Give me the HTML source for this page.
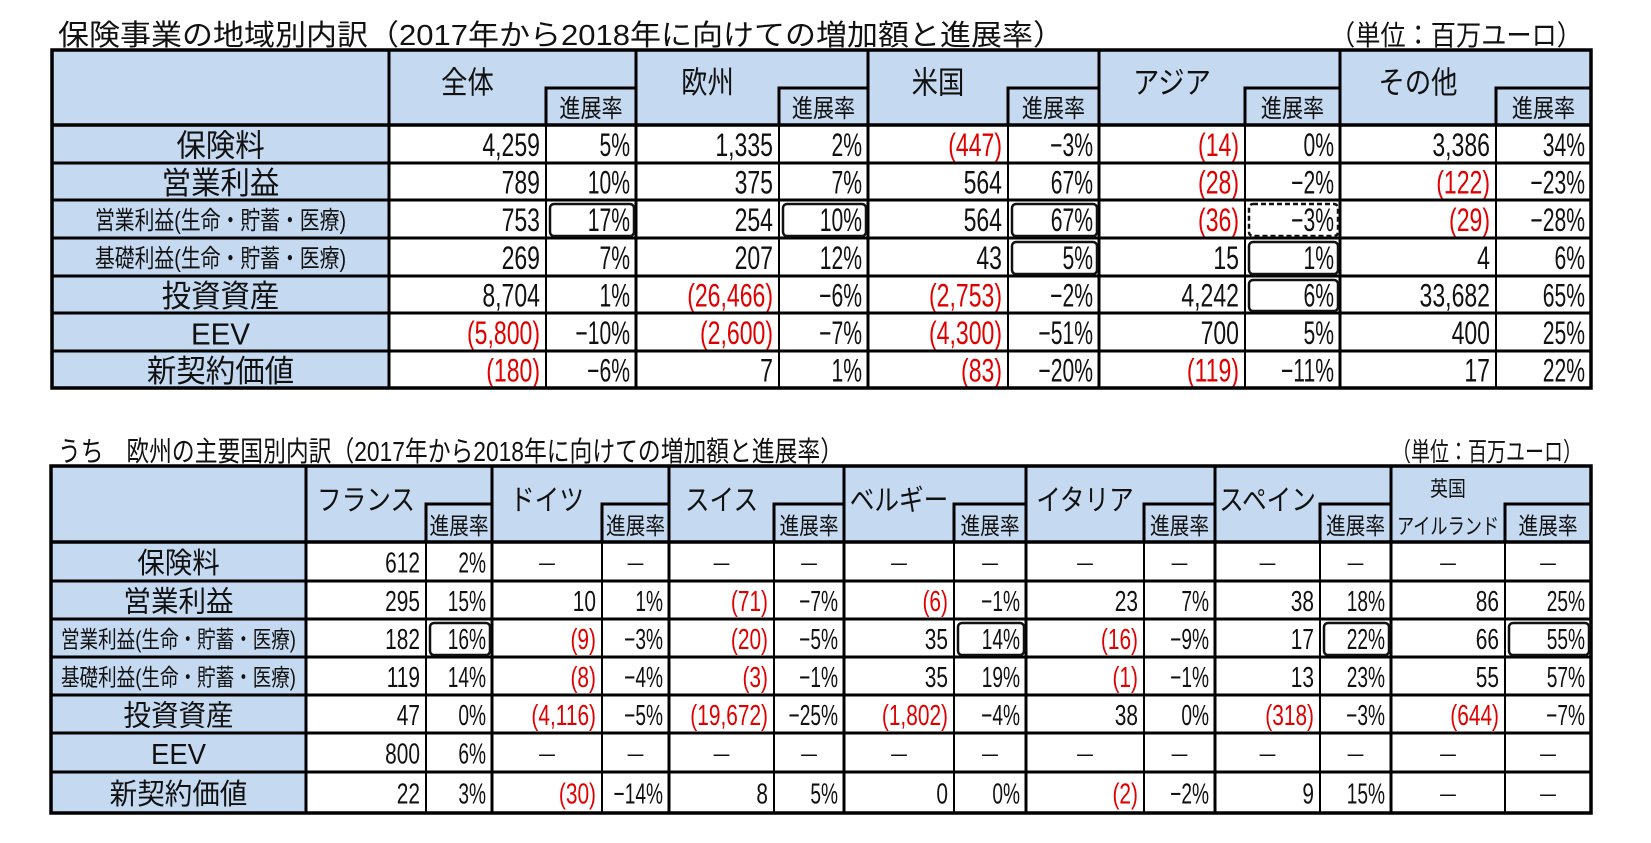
<!DOCTYPE html>
<html><head><meta charset="utf-8"><style>
html,body{margin:0;padding:0;background:#fff;}
svg{display:block;font-family:"Liberation Sans","Noto Sans CJK JP",sans-serif;}
</style></head><body>
<svg id="s" width="1651" height="843" viewBox="0 0 1651 843" xmlns="http://www.w3.org/2000/svg"></svg>
<script>
const rowLabels=["保険料","営業利益","営業利益(生命・貯蓄・医療)","基礎利益(生命・貯蓄・医療)","投資資産","EEV","新契約価値"];
const t1Groups=["全体","欧州","米国","アジア","その他"];
const t1Amounts=[[4259,1335,-447,-14,3386],[789,375,564,-28,-122],[753,254,564,-36,-29],[269,207,43,15,4],[8704,-26466,-2753,4242,33682],[-5800,-2600,-4300,700,400],[-180,7,-83,-119,17]];
const t1Rates=[[5,2,-3,0,34],[10,7,67,-2,-23],[17,10,67,-3,-28],[7,12,5,1,6],[1,-6,-2,6,65],[-10,-7,-51,5,25],[-6,1,-20,-11,22]];
const t2Groups=["フランス","ドイツ","スイス","ベルギー","イタリア","スペイン","英国|アイルランド"];
const t2Amounts=[[612,null,null,null,null,null,null],[295,10,-71,-6,23,38,86],[182,-9,-20,35,-16,17,66],[119,-8,-3,35,-1,13,55],[47,-4116,-19672,-1802,38,-318,-644],[800,null,null,null,null,null,null],[22,-30,8,0,-2,9,null]];
const t2Rates=[[2,null,null,null,null,null,null],[15,1,-7,-1,7,18,25],[16,-3,-5,14,-9,22,55],[14,-4,-1,19,-1,23,57],[0,-5,-25,-4,0,-3,-7],[6,null,null,null,null,null,null],[3,-14,5,0,-2,15,null]];
const t1Boxes=[[2,0,0],[2,1,0],[2,2,0],[3,2,0],[2,3,1],[3,3,0],[4,3,0]];
const t2Boxes=[[2,0,0],[2,3,0],[2,5,0],[2,6,0]];

const S=document.getElementById('s');const NS="http://www.w3.org/2000/svg";
function el(tag,a,name){const e=document.createElementNS(NS,tag);for(const k in a)e.setAttribute(k,a[k]);


S.appendChild(e);return e;}
function txt(x,y,s,size,anchor,color,sx,name){const e=el('text',{transform:`translate(${x},${y}) scale(${sx},1)`,'font-size':size,'text-anchor':anchor,fill:color||'#111'},name);e.textContent=s;return e;}
function fitTxt(x,y,s,size,len,name){const e=el('text',{x:x,y:y,'font-size':size,textLength:len,lengthAdjust:'spacingAndGlyphs',fill:'#111'},name);e.textContent=s;return e;}
function fmtA(v){if(v===null)return["－","#111"];const s=Math.abs(v).toLocaleString('en-US');return v<0?["("+s+")","#e00000"]:[s,"#111"];}
function fmtR(v){if(v===null)return "－";return (v<0?"−":"")+Math.abs(v)+"%";}

function table(cfg){
 const {L,R,top,hb,sub,rows,label,cols,groups,amts,rates,boxes,nsz,hsz,lsz,pre}=cfg;
 const bot=rows[rows.length-1];
 el('rect',{x:L,y:top,width:R-L,height:hb-top,fill:'#c5d9f1'},pre+'-header-bg');
 el('rect',{x:L,y:hb,width:label-L,height:bot-hb,fill:'#c5d9f1'},pre+'-label-col-bg');
 for(let i=0;i<rowLabels.length;i++){const y0=i?rows[i-1]:hb,y1=rows[i];const long=rowLabels[i].length>6;
  txt((L+label)/2,(y0+y1)/2+(long?lsz*0.32:lsz*0.4),rowLabels[i],long?lsz*0.8:lsz,'middle','#111',long?0.8:0.95,'row-label-'+i);}
 for(let g=0;g<groups.length;g++){const a=cols[g][0],r=cols[g][1],b=cols[g][2];
  const gn=groups[g];
  if(gn.includes('|')){const p=gn.split('|');txt((a+r)/2,top+30,p[0],21,'middle','#111',0.85,'group-header-'+g);txt((a+r)/2,sub+30,p[1],22,'middle','#111',0.78,'group-header-'+g+'-b');}
  else txt((a+r)/2,(top+hb)/2+hsz*0.2,gn,hsz,'middle','#111',0.85,'group-header-'+g);
  txt((r+b)/2,hb-8,"進展率",hsz*0.8,'middle','#111',0.85,'rate-header-'+g);
  el('path',{d:`M${r},${hb} V${sub} H${b}`,stroke:'#000','stroke-width':3,fill:'none'},'rate-header-border-'+g);
  for(let i=0;i<rowLabels.length;i++){const y0=i?rows[i-1]:hb,y1=rows[i];const cy=(y0+y1)/2+nsz*0.38;
   const [s,c]=fmtA(amts[i][g]);const rs=fmtR(rates[i][g]);
   if(amts[i][g]===null)txt((a+r)/2,cy,s,nsz*0.75,'middle','#111',1,'amount-'+i+'-'+g);
   else txt(r-6,cy,s,nsz,'end',c,0.72,'amount-'+i+'-'+g);
   if(rates[i][g]===null)txt((r+b)/2,cy,rs,nsz*0.75,'middle','#111',1,'rate-'+i+'-'+g);
   else txt(b-6,cy,rs,nsz,'end','#111',0.66,'rate-'+i+'-'+g);}
  el('line',{x1:r,y1:hb,x2:r,y2:bot,stroke:'#000','stroke-width':2},'rate-col-line-'+g);
  el('line',{x1:b,y1:top,x2:b,y2:bot,stroke:'#000','stroke-width':3},'group-col-line-'+g);
 }
 el('line',{x1:label,y1:top,x2:label,y2:bot,stroke:'#000','stroke-width':3},pre+'-label-col-line');
 el('line',{x1:L,y1:hb,x2:R,y2:hb,stroke:'#000','stroke-width':3.5},pre+'-header-line');
 for(let i=0;i<rows.length-1;i++)el('line',{x1:L,y1:rows[i],x2:R,y2:rows[i],stroke:'#000','stroke-width':3},pre+'-row-line-'+i);
 el('rect',{x:L,y:top,width:R-L,height:bot-top,fill:'none',stroke:'#000','stroke-width':3.5},pre+'-outer-border');
 for(const [ri,g,d] of boxes){const y0=ri?rows[ri-1]:hb,y1=rows[ri];const r=cols[g][1],b=cols[g][2];
  const a={x:r+4,y:y0+4,width:b-r-6,height:y1-y0-6,rx:4,fill:'none',stroke:'#111','stroke-width':2.5};if(d)a['stroke-dasharray']='5,3';
  el('rect',a,pre+'-highlight-box-'+ri+'-'+g);}
}
fitTxt(58,45,"保険事業の地域別内訳（2017年から2018年に向けての増加額と進展率）",29,1006,'table1-title');
fitTxt(1330,45,"（単位：百万ユーロ）",28,252,'table1-unit');
table({pre:'table1',L:52,R:1591,top:50,hb:125,sub:88,rows:[163,200,238,276,313,351,388],label:389,nsz:32,hsz:31,lsz:31,
 cols:[[389,546,636],[636,779,868],[868,1008,1099],[1099,1245,1340],[1340,1496,1591]],groups:t1Groups,amts:t1Amounts,rates:t1Rates,boxes:t1Boxes});
fitTxt(58,461,"うち　欧州の主要国別内訳（2017年から2018年に向けての増加額と進展率）",28,785,'table2-title');
fitTxt(1392,461,"（単位：百万ユーロ）",26,190,'table2-unit');
table({pre:'table2',L:51,R:1591,top:466,hb:542,sub:504,rows:[581,619,657,695,733,772,813],label:306,nsz:29,hsz:29,lsz:29,
 cols:[[306,426,492],[492,602,669],[669,774,844],[844,954,1026],[1026,1144,1215],[1215,1320,1391],[1391,1505,1591]],groups:t2Groups,amts:t2Amounts,rates:t2Rates,boxes:t2Boxes});
</script>
</body></html>
